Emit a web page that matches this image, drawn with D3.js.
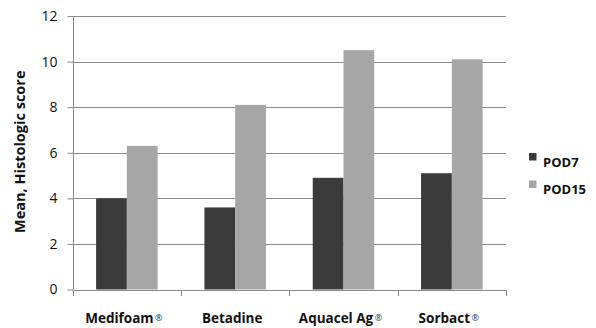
<!DOCTYPE html>
<html>
<head>
<meta charset="utf-8">
<script src="https://cdn.jsdelivr.net/npm/d3@7"></script>
<style>
  body { margin: 0; background: #fff; }
  svg { display: block; font-family: "Open Sans", "Liberation Sans", Arial, sans-serif; }
</style>
</head>
<body>
<div id="chart"></div>
<script>
// chart values
var categories = ["Medifoam", "Betadine", "Aquacel Ag", "Sorbact"]
var registered = [true, false, true, true]
var seriesNames = ["POD7", "POD15"]
var pod7 = [4.0, 3.6, 4.9, 5.1]
var pod15 = [6.3, 8.1, 10.5, 10.1]
var yTicks = [0, 2, 4, 6, 8, 10, 12]

var width = 596
var height = 328
var margins = { top: 16, right: 90, bottom: 38.5, left: 72.7 }
var colors = ["#3b3b3b", "#a6a6a6"]

var svg = d3.select("#chart").append("svg")
    .attr("width", width)
    .attr("height", height)

var x = d3.scaleBand()
    .domain(categories)
    .range([margins.left, width - margins.right])
    .paddingInner(0)
    .paddingOuter(0)

var xInner = d3.scaleBand()
    .domain(seriesNames)
    .range([23.4, x.bandwidth() - 23.4])

var y = d3.scaleLinear()
    .domain([0, 12])
    .range([height - margins.bottom, margins.top])

// grid lines
svg.append("g")
    .selectAll("line")
    .data(yTicks.filter(d => d > 0))
    .enter()
    .append("line")
    .attr("x1", margins.left)
    .attr("x2", width - margins.right)
    .attr("y1", d => Math.round(y(d)) + 0.5)
    .attr("y2", d => Math.round(y(d)) + 0.5)
    .attr("stroke", "#8a8a8a")
    .attr("stroke-width", 1)

// bars
var rows = categories.map((c, i) => ({ cat: c, values: [pod7[i], pod15[i]] }))
var groups = svg.append("g")
    .selectAll("g")
    .data(rows)
    .enter()
    .append("g")
    .attr("transform", d => `translate(${x(d.cat)},0)`)

groups.selectAll("rect")
    .data(d => d.values.map((v, j) => ({ name: seriesNames[j], value: v, j: j })))
    .enter()
    .append("rect")
    .attr("x", d => xInner(d.name))
    .attr("width", xInner.bandwidth())
    .attr("y", d => y(d.value))
    .attr("height", d => y(0) - y(d.value))
    .attr("fill", d => colors[d.j])

// y axis
var yAxis = svg.append("g")
    .attr("transform", `translate(${Math.round(margins.left) + 0.5},0)`)
    .call(d3.axisLeft(y).tickValues(yTicks).tickSize(6).tickPadding(10))
yAxis.selectAll("path, line").attr("stroke", "#8a8a8a")
yAxis.select(".domain").attr("d", `M0,${y(12)}V${y(0)}`)
yAxis.selectAll("text")
    .attr("fill", "#111")
    .style("font-size", "14px")
    .style("font-family", "'Open Sans', Arial, sans-serif")

// x axis
var boundaries = categories.map(c => x(c)).concat([x.range()[1]])
var xAxisG = svg.append("g")
xAxisG.append("line")
    .attr("x1", margins.left)
    .attr("x2", width - margins.right)
    .attr("y1", Math.round(y(0)) + 0.5)
    .attr("y2", Math.round(y(0)) + 0.5)
    .attr("stroke", "#8a8a8a")
xAxisG.selectAll(".xtick")
    .data(boundaries)
    .enter()
    .append("line")
    .attr("class", "xtick")
    .attr("x1", d => Math.round(d) + 0.5)
    .attr("x2", d => Math.round(d) + 0.5)
    .attr("y1", Math.round(y(0)))
    .attr("y2", Math.round(y(0)) + 6)
    .attr("stroke", "#8a8a8a")

var labels = xAxisG.selectAll(".xlabel")
    .data(categories)
    .enter()
    .append("text")
    .attr("class", "xlabel")
    .attr("x", d => x(d) + x.bandwidth() / 2 - 3)
    .attr("y", 323)
    .attr("text-anchor", "middle")
    .style("font-size", "13.5px")
    .style("font-weight", "bold")
    .attr("fill", "#111")
labels.append("tspan").text(d => d)
labels.filter((d, i) => registered[i])
    .append("tspan")
    .attr("dx", 1.5)
    .attr("dy", -2)
    .style("font-size", "9px")
    .style("font-weight", "normal")
    .attr("fill", "#333")
    .text("®")

// y axis title
svg.append("text")
    .attr("transform", `translate(25,${(y(0) + y(12)) / 2 - 1}) rotate(-90)`)
    .attr("text-anchor", "middle")
    .style("font-size", "14.5px")
    .style("font-weight", "bold")
    .attr("fill", "#111")
    .text("Mean, Histologic score")

// legend
var legend = svg.append("g")
    .selectAll("g")
    .data(seriesNames)
    .enter()
    .append("g")
    .attr("transform", (d, i) => `translate(529,${153 + i * 27.5})`)
legend.append("rect")
    .attr("width", 7.5)
    .attr("height", 7.5)
    .attr("fill", (d, i) => colors[i])
legend.append("text")
    .attr("x", 14)
    .attr("y", 13.5)
    .style("font-size", "13px")
    .style("font-weight", "bold")
    .attr("fill", "#111")
    .text(d => d)
</script>
</body>
</html>
